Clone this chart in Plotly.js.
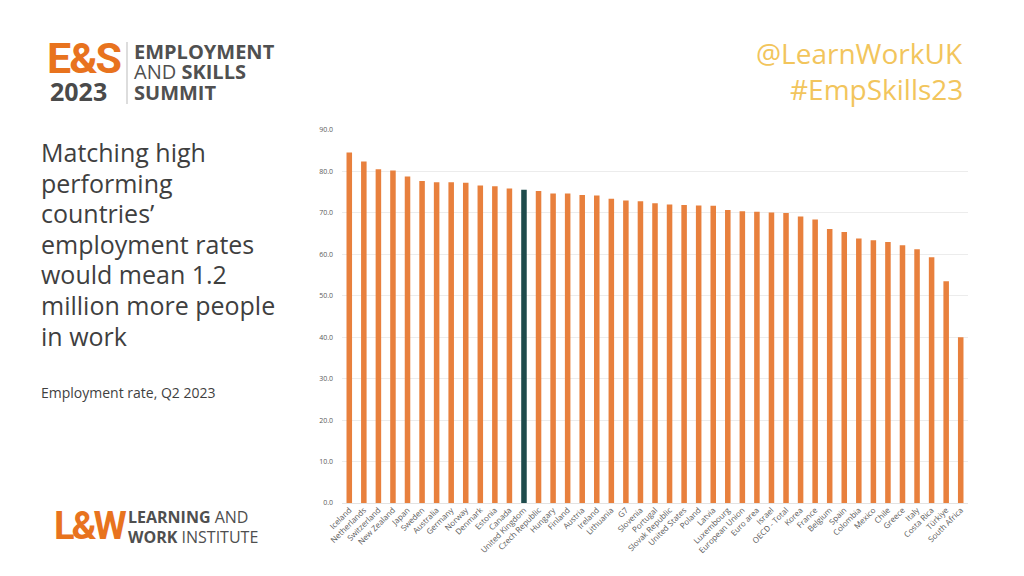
<!DOCTYPE html>
<html><head><meta charset="utf-8">
<script src="https://cdn.plot.ly/plotly-3.0.1.min.js"></script>
<style>html,body{margin:0;padding:0;background:#fff}#chart{width:1024px;height:576px}</style>
</head><body><div id="chart"></div>
<script>
const countries = ["Iceland","Netherlands","Switzerland","New Zealand","Japan","Sweden","Australia","Germany","Norway","Denmark","Estonia","Canada","United Kingdom","Czech Republic","Hungary","Finland","Austria","Ireland","Lithuania","G7","Slovenia","Portugal","Slovak Republic","United States","Poland","Latvia","Luxembourg","European Union","Euro area","Israel","OECD - Total","Korea","France","Belgium","Spain","Colombia","Mexico","Chile","Greece","Italy","Costa Rica","Türkiye","South Africa"];
const employmentRate = [84.6,82.4,80.5,80.2,78.8,77.7,77.4,77.4,77.3,76.6,76.4,75.9,75.6,75.3,74.7,74.7,74.3,74.2,73.4,73.0,72.8,72.3,72.0,71.9,71.8,71.7,70.7,70.4,70.3,70.1,70.0,69.1,68.4,66.1,65.4,63.8,63.4,63.0,62.2,61.2,59.3,53.5,40.0];
const highlight = "United Kingdom";
const yTicks = [0,10,20,30,40,50,60,70,80,90];

const W=1024,H=576, L=342, R=56, T=130, B=73;
const pw=W-L-R, ph=H-T-B;
const px = x => (x-L)/pw;
const py = y => (H-B-y)/ph;

const ORANGE="#E8803D", TEAL="#1E4B4C", YEL="#F2C55C";
const colors = countries.map(c => c===highlight ? TEAL : ORANGE);

const trace = {type:"bar", x:countries, y:employmentRate, marker:{color:colors}, hoverinfo:"x+y"};

function ann(text,x,y,opt){ return Object.assign({text:text,xref:"paper",yref:"paper",x:px(x),y:py(y),showarrow:false,xanchor:"left",yanchor:"middle",borderpad:0},opt||{}); }

const headline = ["Matching high","performing","countries’","employment rates","would mean 1.2","million more people","in work"];
const annotations = [];
headline.forEach((t,i)=>annotations.push(ann(t,40,152+i*30.6,{font:{family:"Open Sans",size:25,color:"#3f3f3f"}})));
annotations.push(ann("Employment rate, Q2 2023",40,392,{font:{family:"Open Sans",size:14,color:"#3f3f3f"}}));
annotations.push(ann("@LearnWorkUK",964,53,{xanchor:"right",font:{family:"Open Sans",size:28,color:YEL}}));
annotations.push(ann("#EmpSkills23",964,89,{xanchor:"right",font:{family:"Open Sans",size:28,color:YEL}}));
// E&S logo
annotations.push(ann("<b><span style=\"letter-spacing:-2px\">E&amp;S</span></b>",46,58,{font:{family:"Roboto",size:43,color:"#E8731E"}}));
annotations.push(ann("<b>2023</b>",49,91,{font:{family:"Open Sans",size:25,color:"#4a4a4a"}}));
annotations.push(ann("<b>EMPLOYMENT</b>",133,51,{font:{family:"Open Sans",size:20,color:"#505050"}}));
annotations.push(ann("AND <b>SKILLS</b>",133,72,{font:{family:"Open Sans",size:20,color:"#505050"}}));
annotations.push(ann("<b>SUMMIT</b>",133,93,{font:{family:"Open Sans",size:20,color:"#505050"}}));
// L&W logo
annotations.push(ann("<b><span style=\"letter-spacing:-3px\">L&amp;W</span></b>",53,526,{font:{family:"Roboto",size:38,color:"#E8731E"}}));
annotations.push(ann("<b>LEARNING</b> AND",127,517,{font:{family:"Open Sans",size:16,color:"#4f4f4f"}}));
annotations.push(ann("<b>WORK</b> INSTITUTE",127,537,{font:{family:"Open Sans",size:16,color:"#4f4f4f"}}));

const shapes = [{type:"line",xref:"paper",yref:"paper",x0:px(127),x1:px(127),y0:py(42),y1:py(104),line:{color:"#bbbbbb",width:1}}];

const layout = {
  width:W,height:H,margin:{l:L,r:R,t:T,b:B,pad:0},
  paper_bgcolor:"#fff",plot_bgcolor:"#fff",showlegend:false,
  bargap:0.62,
  xaxis:{type:"category",tickangle:-45,automargin:false,showgrid:false,showline:false,ticks:"",
    tickfont:{family:"Open Sans",size:8,color:"#5a5a5a"}},
  yaxis:{range:[0,90],tickvals:yTicks,tickformat:".1f",automargin:false,showgrid:true,gridcolor:"#ececec",gridwidth:1,
    zeroline:true,zerolinecolor:"#e3e3e3",showline:false,ticks:"",ticklabelstandoff:8,
    tickfont:{family:"Open Sans",size:7,color:"#5a5a5a"}},
  annotations:annotations, shapes:shapes
};
Plotly.newPlot("chart",[trace],layout,{displayModeBar:false,staticPlot:true});
</script></body></html>
